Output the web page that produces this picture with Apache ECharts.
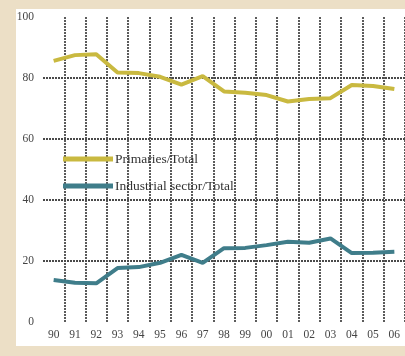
<!DOCTYPE html>
<html>
<head>
<meta charset="utf-8">
<script src="https://cdn.jsdelivr.net/npm/echarts@6/dist/echarts.min.js"></script>
<style>
  html, body { margin: 0; padding: 0; background: #ecdfc6; }
  #chart { width: 405px; height: 356px; }
</style>
</head>
<body>
<div id="chart"></div>
<script>
const years = ["90", "91", "92", "93", "94", "95", "96", "97", "98", "99", "00", "01", "02", "03", "04", "05", "06"];
const primaries = [85.6, 87.5, 87.8, 81.8, 81.6, 80.4, 77.8, 80.6, 75.6, 75.2, 74.4, 72.3, 73.1, 73.4, 77.7, 77.4, 76.4];
const industrials = [13.8, 12.9, 12.7, 17.7, 18.0, 19.4, 22.0, 19.4, 24.2, 24.3, 25.2, 26.3, 26.0, 27.4, 22.6, 22.7, 23.0];
const yTicks = [0, 20, 40, 60, 80, 100];

const serif = "'Liberation Serif', 'DejaVu Serif', serif";
const gridStyle = { color: "#4a4a4a", width: 1.8, type: [2, 1] };

const chart = echarts.init(document.getElementById("chart"), null, { renderer: "canvas" });

chart.setOption({
    backgroundColor: "#ecdfc6",
    animation: false,
    graphic: [{
        type: "rect",
        z: -10,
        shape: { x: 16, y: 9, width: 389, height: 337 },
        style: { fill: "#ffffff" }
    }],
    grid: { left: 43, top: 17, width: 363, height: 305 },
    legend: {
        orient: "vertical",
        left: 58,
        top: 147,
        itemWidth: 50,
        itemHeight: 5,
        itemGap: 13,
        icon: "rect",
        textStyle: { fontFamily: serif, fontSize: 13.5, color: "#333", padding: [0, 0, 0, -3] },
        data: ["Primaries/Total", "Industrial sector/Total"]
    },
    xAxis: {
        type: "category",
        data: years,
        boundaryGap: true,
        axisLine: { show: false },
        axisTick: { show: false },
        axisLabel: { interval: 0, fontFamily: serif, fontSize: 11.5, color: "#444", margin: 7 },
        splitLine: { show: true, interval: 0, showMinLine: false, lineStyle: gridStyle }
    },
    yAxis: {
        type: "value",
        min: yTicks[0],
        max: yTicks[yTicks.length - 1],
        interval: 20,
        axisLine: { show: false },
        axisTick: { show: false },
        axisLabel: { fontFamily: serif, fontSize: 11.5, color: "#444", margin: 9 },
        splitLine: { show: true, showMinLine: false, showMaxLine: false, lineStyle: gridStyle }
    },
    series: [
        {
            name: "Primaries/Total",
            type: "line",
            data: primaries,
            symbol: "none",
            color: "#c9b940",
            lineStyle: { width: 4, color: "#c9b940" }
        },
        {
            name: "Industrial sector/Total",
            type: "line",
            data: industrials,
            symbol: "none",
            color: "#3f7d8a",
            lineStyle: { width: 4, color: "#3f7d8a" }
        }
    ]
});
</script>
</body>
</html>
